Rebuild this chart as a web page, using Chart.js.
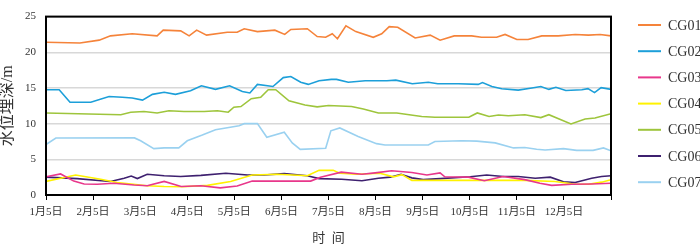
<!DOCTYPE html>
<html>
<head>
<meta charset="utf-8">
<script src="https://cdn.jsdelivr.net/npm/chart.js@4/dist/chart.umd.min.js"></script>
<style>
html,body{margin:0;padding:0;background:#fff;}
#wrap{width:700px;height:245px;position:relative;}
</style>
</head>
<body>
<div id="wrap"><canvas id="c" width="700" height="245"></canvas></div>
<script>
// Tick labels (x axis = months from 1月5日)
const monthLabels = ['1月5日','2月5日','3月5日','4月5日','5月5日','6月5日','7月5日','8月5日','9月5日','10月5日','11月5日','12月5日'];
const yTicks = [0, 5, 10, 15, 20, 25];
const seriesNames = ['CG01','CG02','CG03','CG04','CG05','CG06','CG07'];
const seriesColors = ['#F5833A','#1C9FD9','#E8378B','#FFF200','#9EC53C','#3E206F','#9AD1F0'];

// Series: x in months after 1月5日, y = 水位埋深 (m)
const cg01X = [0,0.72,1.13,1.37,1.83,2.36,2.49,2.86,3.04,3.20,3.41,3.85,4.06,4.21,4.49,4.86,5.07,5.20,5.55,5.76,5.94,6.08,6.19,6.37,6.58,6.95,7.13,7.29,7.47,7.84,8.16,8.37,8.67,9.04,9.25,9.57,9.75,10.00,10.24,10.53,10.88,11.24,11.52,11.77,12.0];
const cg01Y = [21.4,21.3,21.7,22.3,22.6,22.3,23.1,23.0,22.3,23.1,22.4,22.8,22.8,23.3,22.9,23.1,22.5,23.2,23.3,22.2,22.1,22.6,21.9,23.7,22.9,22.1,22.6,23.6,23.5,22.0,22.4,21.7,22.3,22.3,22.1,22.1,22.5,21.8,21.8,22.3,22.3,22.5,22.4,22.5,22.3];

const cg02X = [0,0.28,0.51,0.95,1.34,1.62,1.83,2.05,2.26,2.51,2.75,3.07,3.30,3.60,3.90,4.17,4.33,4.49,4.82,5.04,5.20,5.41,5.57,5.80,6.06,6.17,6.42,6.78,7.24,7.43,7.78,8.12,8.32,8.76,9.18,9.27,9.47,9.68,10.03,10.32,10.51,10.68,10.83,11.04,11.38,11.51,11.65,11.79,12.0];
const cg02Y = [14.75,14.75,13.0,13.0,13.8,13.7,13.6,13.3,14.1,14.4,14.1,14.6,15.3,14.8,15.3,14.5,14.3,15.5,15.2,16.45,16.6,15.8,15.5,16.0,16.2,16.2,15.8,16.0,16.0,16.1,15.6,15.8,15.6,15.6,15.5,15.75,15.2,14.9,14.7,15.0,15.2,14.8,15.1,14.65,14.75,14.9,14.35,15.05,14.8];

const cg03X = [0,0.31,0.59,0.81,1.09,1.44,1.87,2.15,2.51,2.87,3.29,3.70,4.06,4.38,5.62,5.83,6.27,6.71,6.99,7.34,7.77,8.09,8.37,8.47,8.97,9.31,9.71,10.17,10.49,10.74,11.17,11.59,12.0];
const cg03Y = [2.55,2.95,1.95,1.55,1.5,1.65,1.4,1.3,1.9,1.2,1.3,1.0,1.25,1.95,1.95,2.5,3.2,2.9,3.1,3.4,3.15,2.8,3.1,2.55,2.5,2.0,2.6,2.15,1.65,1.35,1.5,1.55,1.65];

const cg04X = [0,0.63,1.16,1.51,2.15,2.51,2.90,3.43,3.92,4.38,4.91,5.55,5.80,6.10,6.24,6.60,7.09,7.38,7.56,7.77,10.17,10.81,11.24,11.52,11.80,12.0];
const cg04Y = [1.9,2.8,2.2,1.75,1.3,1.2,1.15,1.35,1.9,2.8,2.9,2.7,3.45,3.45,3.05,2.9,3.05,2.55,2.85,2.05,2.05,1.9,1.5,1.5,1.8,2.15];

const cg05X = [0,1.59,1.80,2.08,2.36,2.61,2.93,3.36,3.64,3.87,3.99,4.14,4.36,4.56,4.72,4.88,5.16,5.50,5.76,6.00,6.49,6.74,7.06,7.45,7.98,8.26,8.98,9.16,9.41,9.61,9.82,10.17,10.51,10.68,11.15,11.45,11.66,12.0];
const cg05Y = [11.5,11.25,11.6,11.7,11.5,11.8,11.7,11.7,11.8,11.6,12.3,12.4,13.5,13.7,14.75,14.75,13.2,12.6,12.35,12.55,12.4,12.05,11.5,11.5,11.0,10.9,10.9,11.5,11.0,11.2,11.1,11.25,10.85,11.25,9.95,10.65,10.8,11.4];

const cg06X = [0,0.66,1.37,1.66,1.81,1.94,2.15,2.51,2.86,3.29,3.82,4.28,4.63,5.06,5.55,5.80,6.28,6.71,7.06,7.31,7.54,7.77,8.01,8.37,9.01,9.36,9.71,10.03,10.39,10.71,10.99,11.24,11.59,11.80,12.0];
const cg06Y = [2.5,2.3,1.9,2.35,2.65,2.3,2.9,2.7,2.6,2.75,3.05,2.8,2.8,3.0,2.7,2.3,2.2,2.0,2.35,2.5,2.9,2.4,2.15,2.3,2.55,2.8,2.6,2.6,2.35,2.5,1.85,1.75,2.35,2.6,2.7];

const cg07X = [0,0.21,1.88,2.01,2.29,2.51,2.82,3.00,3.32,3.60,4.10,4.21,4.49,4.69,5.06,5.23,5.40,5.94,6.05,6.24,6.63,7.02,7.20,8.12,8.26,8.83,9.15,9.54,9.93,10.17,10.42,10.60,10.99,11.27,11.62,11.84,12.0];
const cg07Y = [7.07,7.98,8.0,7.6,6.5,6.6,6.6,7.6,8.4,9.15,9.7,10.0,10.0,8.1,8.8,7.3,6.4,6.55,9.0,9.4,8.2,7.2,7.0,7.0,7.5,7.6,7.55,7.3,6.6,6.65,6.4,6.3,6.5,6.25,6.25,6.6,6.2];

const allX = [cg01X,cg02X,cg03X,cg04X,cg05X,cg06X,cg07X];
const allY = [cg01Y,cg02Y,cg03Y,cg04Y,cg05Y,cg06Y,cg07Y];

const serif = "'Liberation Serif', 'Noto Sans CJK SC', serif";

const datasets = seriesNames.map((name, i) => ({
  label: name,
  data: allX[i].map((x, j) => ({x: x, y: allY[i][j]})),
  borderColor: seriesColors[i],
  backgroundColor: seriesColors[i],
  borderWidth: 1.6,
  pointRadius: 0,
  tension: 0,
  fill: false
}));

const frameAndLegend = {
  id: 'frameAndLegend',
  afterDraw(chart) {
    const ctx = chart.ctx;
    const a = chart.chartArea;
    ctx.save();
    ctx.strokeStyle = '#000';
    ctx.lineWidth = 2;
    ctx.strokeRect(a.left, a.top, a.right - a.left, a.bottom - a.top);
    // legend
    chart.data.datasets.forEach((ds, i) => {
      const y = 25 + i * 26.2;
      ctx.strokeStyle = ds.borderColor;
      ctx.lineWidth = 2;
      ctx.beginPath();
      ctx.moveTo(638, y);
      ctx.lineTo(661, y);
      ctx.stroke();
      ctx.fillStyle = '#333';
      ctx.font = "14px " + serif;
      ctx.textBaseline = 'middle';
      ctx.textAlign = 'left';
      ctx.fillText(ds.label, 668, y + 1);
    });
    ctx.restore();
  }
};

new Chart(document.getElementById('c'), {
  type: 'line',
  data: { datasets: datasets },
  options: {
    responsive: false,
    animation: false,
    devicePixelRatio: 1,
    layout: { padding: { left: 0, right: 89, top: 4, bottom: 0 } },
    plugins: { legend: { display: false }, tooltip: { enabled: false } },
    scales: {
      x: {
        type: 'linear',
        min: 0,
        max: 12,
        afterFit(s) { s.height = 50; },
        afterBuildTicks(s) { s.ticks = monthLabels.map((_, i) => ({value: i})).concat([{value: 12}]); },
        border: { display: false },
        grid: { drawOnChartArea: false, drawTicks: true, tickLength: 5, color: '#000', lineWidth: 1 },
        ticks: {
          padding: 6,
          maxRotation: 0,
          autoSkip: false,
          color: '#333',
          font: { family: serif, size: 11 },
          callback: (v) => monthLabels[v] !== undefined ? monthLabels[v] : ''
        },
        title: {
          display: true,
          text: '时  间',
          color: '#333',
          font: { family: serif, size: 13, lineHeight: 1 },
          padding: { top: 0, bottom: 0 }
        }
      },
      y: {
        min: 0,
        max: 25,
        afterFit(s) { s.width = 46; },
        afterBuildTicks(s) { s.ticks = yTicks.map(v => ({value: v})); },
        border: { display: false },
        grid: { drawTicks: false, color: '#d8d8d8', lineWidth: 1.5 },
        ticks: {
          padding: 10,
          color: '#333',
          font: { family: serif, size: 11 }
        },
        title: {
          display: true,
          text: '水位埋深/m',
          color: '#333',
          font: { family: serif, size: 16, lineHeight: 1 },
          padding: { top: 0, bottom: 0 }
        }
      }
    }
  },
  plugins: [frameAndLegend]
});
</script>
</body>
</html>
